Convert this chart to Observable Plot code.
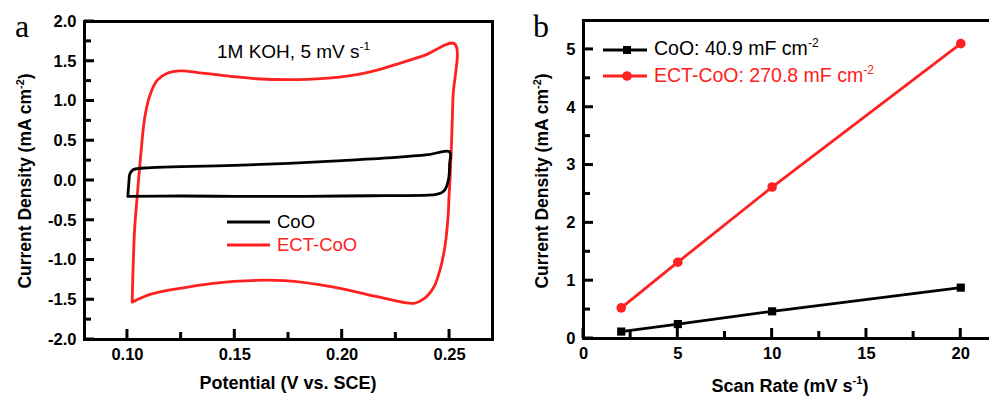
<!DOCTYPE html>
<html><head><meta charset="utf-8">
<script src="https://cdn.jsdelivr.net/npm/d3@7"></script>
<script src="https://cdn.jsdelivr.net/npm/@observablehq/plot@0.6"></script>
<style>
html,body{margin:0;padding:0;background:#fff;}
#wrap{position:relative;width:989px;height:396px;overflow:hidden;background:#fff;}
#pa,#pb{position:absolute;top:0;}
#pa{left:0;width:500px;}
#pb{left:500px;width:501px;}
svg{overflow:visible;max-width:none !important;}
</style></head><body><div id="wrap"><div id="pa"></div><div id="pb"></div></div>
<script>
const RED = "#ff2020";
const SANS = "'Liberation Sans', Arial, Helvetica, sans-serif";
const SERIF = "'Liberation Serif', 'Times New Roman', serif";

// ---------- Panel a: cyclic voltammograms (1M KOH, 5 mV/s) ----------
const cooV = [0.1002, 0.1006, 0.1011, 0.1020, 0.1030, 0.1092, 0.125, 0.150, 0.175, 0.200, 0.225, 0.240, 0.2500, 0.2500, 0.2497, 0.2482, 0.2465, 0.2444, 0.240, 0.220, 0.200, 0.175, 0.150, 0.125, 0.1002];
const cooJ = [-0.20, -0.05, 0.08, 0.12, 0.14, 0.16, 0.175, 0.19, 0.215, 0.25, 0.29, 0.325, 0.36, 0.20, 0.04, -0.10, -0.15, -0.17, -0.185, -0.19, -0.195, -0.20, -0.20, -0.195, -0.20];
const ectV = [0.1022, 0.1033, 0.1045, 0.1064, 0.1081, 0.1107, 0.1138, 0.1185, 0.1247, 0.135, 0.148, 0.160, 0.179, 0.195, 0.212, 0.225, 0.238, 0.2523,
              0.2516, 0.2508, 0.2502, 0.2497, 0.2494, 0.2478, 0.2455, 0.2427, 0.238, 0.2334, 0.2179, 0.196, 0.173, 0.1495, 0.126, 0.111, 0.1022];
const ectJ = [-1.53, -0.63, -0.21, 0.38, 0.80, 1.09, 1.26, 1.35, 1.38, 1.35, 1.31, 1.28, 1.27, 1.29, 1.36, 1.46, 1.57, 1.72,
              1.05, 0.38, 0.0, -0.23, -0.42, -0.84, -1.13, -1.34, -1.49, -1.545, -1.47, -1.34, -1.26, -1.27, -1.35, -1.43, -1.53];
const aMajorX = [0.10, 0.15, 0.20, 0.25];
const aMinorX = [0.125, 0.175, 0.225];
const aMajorY = [-2.0, -1.5, -1.0, -0.5, 0.0, 0.5, 1.0, 1.5, 2.0];
const aMinorY = [-1.75, -1.25, -0.75, -0.25, 0.25, 0.75, 1.25, 1.75];

// ---------- Panel b: current density vs scan rate ----------
const scanRates = [2, 5, 10, 20];
const cooCurrent = [0.12, 0.25, 0.47, 0.88];
const ectCurrent = [0.53, 1.32, 2.62, 5.10];
const bMajorX = [0, 5, 10, 15, 20];
const bMinorX = [2.5, 7.5, 12.5, 17.5];
const bMajorY = [0, 1, 2, 3, 4, 5];
const bMinorY = [0.5, 1.5, 2.5, 3.5, 4.5];

const seriesNames = ["CoO", "ECT-CoO"];
const bLegend = ["CoO: 40.9 mF cm", "ECT-CoO: 270.8 mF cm"];

const cooData = cooV.map((v, i) => ({v, j: cooJ[i]}));
const ectData = ectV.map((v, i) => ({v, j: ectJ[i]}));
const cooB = scanRates.map((s, i) => ({s, c: cooCurrent[i]}));
const ectB = scanRates.map((s, i) => ({s, c: ectCurrent[i]}));

function addText(svg, o) {
  const t = d3.select(svg).append("text")
    .attr("x", o.x).attr("y", o.y)
    .attr("font-family", o.family || SANS)
    .attr("font-size", o.size)
    .attr("font-weight", o.weight || "normal")
    .attr("fill", o.fill || "black")
    .attr("text-anchor", o.anchor || "start");
  if (o.rotate) t.attr("transform", `rotate(${o.rotate},${o.x},${o.y})`);
  let shifted = false;
  for (const p of o.parts) {
    if (typeof p === "string") {
      const ts = t.append("tspan").text(p);
      if (shifted) { ts.attr("dy", 0.42 * o.size); shifted = false; }
    } else {
      t.append("tspan").attr("dy", -0.42 * o.size).attr("font-size", 0.62 * o.size).text(p.sup);
      shifted = true;
    }
  }
  return t;
}

// inward ticks, positioned through the plot's own scales
function inwardTicks(svg, majX, minX, majY, minY) {
  const sx = svg.scale("x"), sy = svg.scale("y");
  const bottom = sy.range[0], left = sx.range[0];
  const g = d3.select(svg).append("g");
  const put = (vals, len, isX) => vals.forEach(v => {
    const ln = g.append("line").attr("stroke", "black").attr("stroke-width", 3);
    if (isX) { const x = sx.apply(v); ln.attr("x1", x).attr("x2", x).attr("y1", bottom).attr("y2", bottom - len); }
    else { const y = sy.apply(v); ln.attr("x1", left).attr("x2", left + len).attr("y1", y).attr("y2", y); }
  });
  put(majX, 10, true); put(minX, 7, true); put(majY, 10, false); put(minY, 7, false);
  return g;
}

// ---------- Build panel a ----------
const Wa = 500, Ha = 396, mLa = 84, mRa = 8, mTa = 21, mBa = 57;
const pa = Plot.plot({
  width: Wa, height: Ha,
  marginLeft: mLa, marginRight: mRa, marginTop: mTa, marginBottom: mBa,
  style: {fontFamily: SANS, background: "transparent", color: "black", overflow: "visible"},
  x: {domain: [0.08, 0.27]},
  y: {domain: [-2, 2]},
  marks: [
    Plot.line(ectData, {x: "v", y: "j", stroke: RED, strokeWidth: 2.8, curve: "catmull-rom"}),
    Plot.line(cooData, {x: "v", y: "j", stroke: "black", strokeWidth: 2.8, curve: "catmull-rom"}),
    Plot.axisX({ticks: aMajorX, tickSize: 0, tickPadding: 9, tickFormat: d => d.toFixed(2), fontSize: 16.5, fontWeight: "bold", label: null}),
    Plot.axisY({ticks: aMajorY, tickSize: 0, tickPadding: 8, tickFormat: d => d.toFixed(1), fontSize: 16.5, fontWeight: "bold", label: null}),
    Plot.frame({stroke: "black", strokeWidth: 3})
  ]
});
document.getElementById("pa").appendChild(pa);
inwardTicks(pa, aMajorX, aMinorX, aMajorY, aMinorY);

addText(pa, {x: 288, y: 389, size: 18, weight: "bold", anchor: "middle", parts: ["Potential (V vs. SCE)"]});
addText(pa, {x: 31, y: 181, size: 17.5, weight: "bold", anchor: "middle", rotate: -90, parts: ["Current Density (mA cm", {sup: "-2"}, ")"]});
addText(pa, {x: 217, y: 58, size: 19, anchor: "start", parts: ["1M KOH, 5 mV s", {sup: "-1"}]});
addText(pa, {x: 15, y: 37, size: 32, family: SERIF, parts: ["a"]});
{
  const g = d3.select(pa).append("g");
  g.append("line").attr("x1", 227).attr("x2", 270).attr("y1", 222).attr("y2", 222).attr("stroke", "black").attr("stroke-width", 2.8);
  g.append("line").attr("x1", 227).attr("x2", 270).attr("y1", 245).attr("y2", 245).attr("stroke", RED).attr("stroke-width", 2.8);
  addText(pa, {x: 277, y: 228, size: 18.5, parts: [seriesNames[0]]});
  addText(pa, {x: 277, y: 251, size: 18.5, fill: RED, parts: [seriesNames[1]]});
}

// ---------- Build panel b ----------
const Wb = 501, Hb = 396, mLb = 83, mRb = 3, mTb = 20, mBb = 58;
const pb = Plot.plot({
  width: Wb, height: Hb,
  marginLeft: mLb, marginRight: mRb, marginTop: mTb, marginBottom: mBb,
  style: {fontFamily: SANS, background: "transparent", color: "black", overflow: "visible"},
  x: {domain: [0, 22]},
  y: {domain: [0, 5.5]},
  marks: [
    Plot.line(ectB, {x: "s", y: "c", stroke: RED, strokeWidth: 2.8}),
    Plot.line(cooB, {x: "s", y: "c", stroke: "black", strokeWidth: 2.8}),
    Plot.dot(ectB, {x: "s", y: "c", r: 4.8, fill: RED, symbol: "circle"}),
    Plot.dot(cooB, {x: "s", y: "c", r: 4.6, fill: "black", symbol: "square"}),
    Plot.axisX({ticks: bMajorX, tickSize: 0, tickPadding: 9, tickFormat: d => String(d), fontSize: 16.5, fontWeight: "bold", label: null}),
    Plot.axisY({ticks: bMajorY, tickSize: 0, tickPadding: 8, tickFormat: d => String(d), fontSize: 16.5, fontWeight: "bold", label: null}),
    Plot.frame({stroke: "black", strokeWidth: 3})
  ]
});
document.getElementById("pb").appendChild(pb);
inwardTicks(pb, bMajorX, bMinorX, bMajorY, bMinorY);

addText(pb, {x: 290, y: 392, size: 18, weight: "bold", anchor: "middle", parts: ["Scan Rate (mV s", {sup: "-1"}, ")"]});
addText(pb, {x: 48, y: 181, size: 17.5, weight: "bold", anchor: "middle", rotate: -90, parts: ["Current Density (mA cm", {sup: "-2"}, ")"]});
addText(pb, {x: 33, y: 37, size: 32, family: SERIF, parts: ["b"]});
{
  const g = d3.select(pb).append("g");
  g.append("line").attr("x1", 103).attr("x2", 147).attr("y1", 50).attr("y2", 50).attr("stroke", "black").attr("stroke-width", 2.8);
  g.append("rect").attr("x", 127 - 4).attr("y", 50 - 4).attr("width", 8).attr("height", 8).attr("fill", "black");
  g.append("line").attr("x1", 103).attr("x2", 147).attr("y1", 76).attr("y2", 76).attr("stroke", RED).attr("stroke-width", 2.8);
  g.append("circle").attr("cx", 127).attr("cy", 76).attr("r", 4.8).attr("fill", RED);
  addText(pb, {x: 154, y: 55, size: 19.5, parts: [bLegend[0], {sup: "-2"}]});
  addText(pb, {x: 154, y: 82, size: 19.5, fill: RED, parts: [bLegend[1], {sup: "-2"}]});
}
</script></body></html>
